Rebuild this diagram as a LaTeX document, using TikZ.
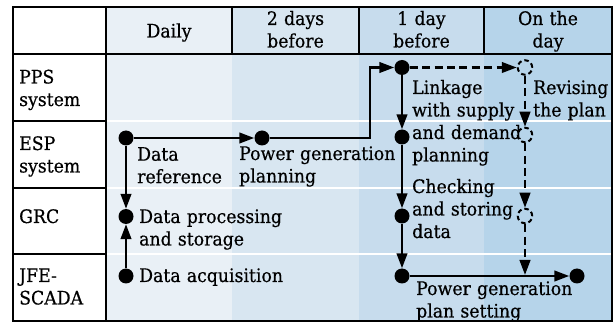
\documentclass[tikz,border=0pt]{standalone}
\usepackage{fontspec}
\setmainfont[FakeStretch=0.93, FakeBold=0.5]{DejaVu Serif}
\usetikzlibrary{arrows.meta}
\definecolor{cDaily}{RGB}{233,240,246}
\definecolor{cTwo}{RGB}{216,230,241}
\definecolor{cOne}{RGB}{199,220,237}
\definecolor{cOn}{RGB}{182,212,234}
\begin{document}
\begin{tikzpicture}[x=1pt,y=-1pt,
  txt/.style={font=\fontsize{18.6}{22.5}\selectfont, inner sep=0pt},
  lbl/.style={txt, anchor=base west, align=left, text width=200pt},
  hdr/.style={txt, anchor=base, align=center, text width=120pt},
  dot/.style={circle, fill=black, inner sep=0pt, minimum size=15pt},
  odot/.style={circle, draw=black, line width=2pt, inner sep=0pt, minimum size=14.5pt, dash pattern=on 4.5pt off 3pt},
  arr/.style={line width=2.5pt, -{Triangle[length=15pt,width=10.5pt]}},
  darr/.style={arr, dash pattern=on 8pt off 4.4pt},
  conn/.style={line width=2.5pt},
  frame/.style={line width=2pt, draw=black}]
\useasboundingbox (0,0) rectangle (614,323);
% backgrounds
\fill[white] (13,7) rectangle (106,321);
\fill[cDaily] (106,7) rectangle (232,321);
\fill[cTwo] (232,7) rectangle (359,321);
\fill[cOne] (359,7) rectangle (484,321);
\fill[cOn] (484,7) rectangle (612,321);
% white row separators
\foreach \yy in {121,188,254} \draw[white, line width=1.5pt] (106,\yy) -- (612,\yy);
% black grid
\foreach \yy in {121,188,254} \draw[frame] (13,\yy) -- (106,\yy);
\draw[frame] (13,54) -- (612,54);
\draw[frame] (106,7) -- (106,321);
\foreach \xx in {232,359,484} \draw[frame] (\xx,7) -- (\xx,54);
% headers
\node[hdr] (hDaily) at (169,37.5) {Daily};
\node[hdr] (hTwo) at (295.5,25) {2 days\\before};
\node[hdr] (hOne) at (421.5,25) {1 day\\before};
\node[hdr] (hOn) at (548,25) {On the\\day};
% row labels
\node[lbl] (rPPS) at (19,83.5) {PPS\\system};
\node[lbl] (rESP) at (19,150) {ESP\\system};
\node[lbl] (rGRC) at (19,223) {GRC};
\node[lbl] (rJFE) at (19,282) {JFE-\\SCADA};
% dots
\node[dot] (d1) at (126,138) {};
\node[dot] (d2) at (126,216.5) {};
\node[dot] (d3) at (126,276) {};
\node[dot] (pg) at (262,138) {};
\node[dot] (l1) at (402,67.5) {};
\node[dot] (l2) at (402,137) {};
\node[dot] (l3) at (402,216) {};
\node[dot] (l4) at (402,276) {};
\node[dot] (e) at (577,276) {};
\node[odot] (r1) at (525,67.5) {};
\node[odot] (r2) at (525,135) {};
\node[odot] (r3) at (525,216) {};
\coordinate (bend) at (370,138);
\coordinate (rend) at (525,275);
% connectors
\draw[arr] (d1) -- (pg);
\draw[arr] (pg) -- (bend) |- (l1);
\draw[arr] (d1) -- (d2);
\draw[arr] (d3) -- (d2);
\draw[arr] (l1) -- (l2);
\draw[arr] (l2) -- (l3);
\draw[arr] (l3) -- (l4);
\draw[arr] (l4) -- (e);
\draw[darr] (l1) -- (r1);
\draw[darr] (r1) -- (r2);
\draw[darr] (r2) -- (r3);
\draw[darr] (r3) -- (rend);
% body labels
\node[lbl] (tDR) at (137,160.7) {Data\\reference};
\node[lbl] (tPG) at (239,160) {Power generation\\planning};
\node[lbl] (tDP) at (139,223) {Data processing\\and storage};
\node[lbl] (tDA) at (139,282) {Data acquisition};
\node[lbl] (tLK) at (412,94) {Linkage\\with supply\\and demand\\planning};
\node[lbl] (tRV) at (533,94) {Revising\\the plan};
\node[lbl] (tCK) at (412,193) {Checking\\and storing\\data};
\node[lbl] (tPS) at (416,295) {Power generation\\plan setting};
% outer frame
\fill[white] (0,322) rectangle (614,323);
\draw[frame] (13,7) rectangle (612,321);
\end{tikzpicture}
\end{document}
